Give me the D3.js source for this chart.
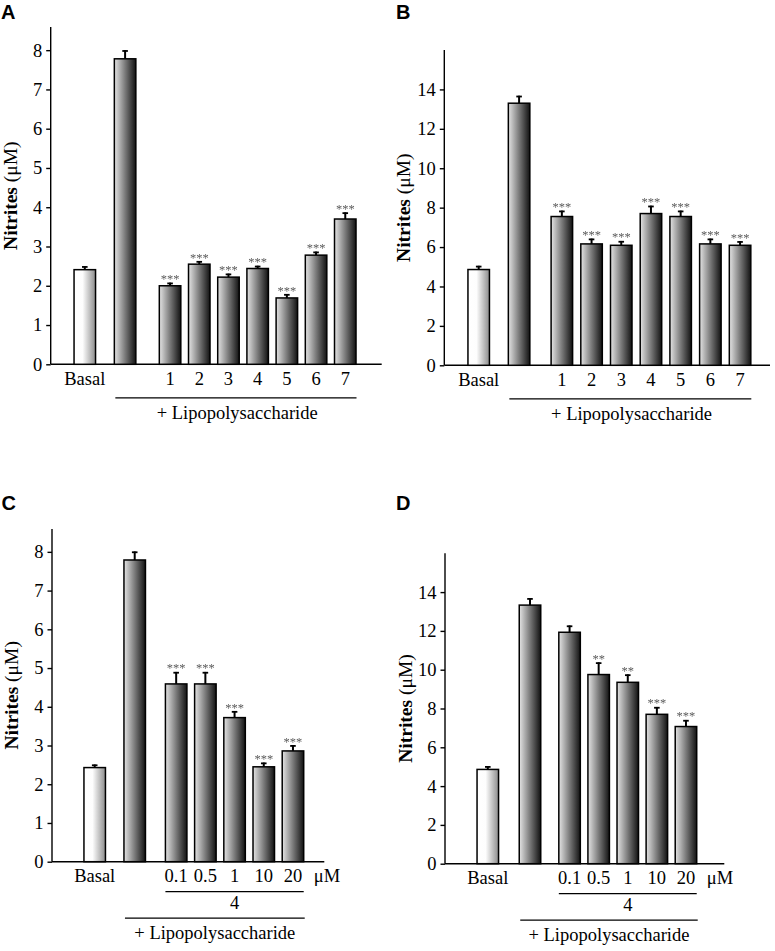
<!DOCTYPE html>
<html><head><meta charset="utf-8">
<script src="https://cdn.jsdelivr.net/npm/d3@7"></script>
<style>
html,body{margin:0;padding:0;background:#fff;}
svg{display:block;}
.sig{filter:grayscale(1);}
</style></head>
<body>
<svg id="chart" width="775" height="951"></svg>
<script>
// ---------- DATA ----------
// Panel A (scale 0-8)
const catsA = ["Basal","LPS","1","2","3","4","5","6","7"];
const labelsA = ["Basal","","1","2","3","4","5","6","7"];
const valuesA = [2.41, 7.78, 2.00, 2.55, 2.22, 2.44, 1.69, 2.78, 3.70];
const semA    = [0.09, 0.22, 0.08, 0.08, 0.09, 0.07, 0.10, 0.09, 0.17];
const sigA    = ["", "", "***","***","***","***","***","***","***"];
const ticksA  = [0,1,2,3,4,5,6,7,8];

// Panel B (scale 0-16)
const catsB = ["Basal","LPS","1","2","3","4","5","6","7"];
const labelsB = ["Basal","","1","2","3","4","5","6","7"];
const valuesB = [4.86, 13.30, 7.55, 6.16, 6.09, 7.70, 7.55, 6.16, 6.09];
const semB    = [0.19, 0.38, 0.30, 0.27, 0.22, 0.40, 0.30, 0.27, 0.21];
const sigB    = ["", "", "***","***","***","***","***","***","***"];
const ticksB  = [0,2,4,6,8,10,12,14];

// Panel C: compound 4 dose-response
const catsC = ["Basal","LPS","0.1","0.5","1","10","20"];
const labelsC = ["Basal","","0.1","0.5","1","10","20"];
const valuesC = [2.43, 7.79, 4.59, 4.59, 3.72, 2.45, 2.86];
const semC    = [0.08, 0.22, 0.31, 0.31, 0.17, 0.11, 0.15];
const sigC    = ["", "", "***","***","***","***","***"];
const ticksC  = [0,1,2,3,4,5,6,7,8];

// Panel D
const catsD = ["Basal","LPS","0.1","0.5","1","10","20"];
const labelsD = ["Basal","","0.1","0.5","1","10","20"];
const valuesD = [4.86, 13.33, 11.93, 9.75, 9.35, 7.70, 7.07];
const semD    = [0.17, 0.36, 0.35, 0.63, 0.41, 0.38, 0.34];
const sigD    = ["", "", "", "**","**","***","***"];
const ticksD  = [0,2,4,6,8,10,12,14];

const yTitleBold = "Nitrites";
const yTitleUnit = " (\u03BCM)";
const groupLabel = "+ Lipopolysaccharide";
const doseCompound = "4";
const doseUnit = "\u03BCM";

// ---------- LAYOUT ----------
const SERIF = '"Liberation Serif", "Times New Roman", serif';
const SANS = '"Liberation Sans", Arial, sans-serif';
const panels = [
  {letter:"A", cats:catsA, labels:labelsA, values:valuesA, sem:semA, sig:sigA, ticks:ticksA, yMax:8.59,
   x0:50.7, x1:381.7, yZero:364.3, yTop:27, basalOff:34.1, slot:29.2, lpsPos:1.38, tPos:2.92,
   letterX:1, letterY:18.5, titleX:10, dose:false},
  {letter:"B", cats:catsB, labels:labelsB, values:valuesB, sem:semB, sig:sigB, ticks:ticksB, yMax:16,
   x0:444.3, x1:770, yZero:365.3, yTop:50, basalOff:34.4, slot:29.7, lpsPos:1.36, tPos:2.80,
   letterX:396, letterY:18.5, titleX:403, dose:false},
  {letter:"C", cats:catsC, labels:labelsC, values:valuesC, sem:semC, sig:sigC, ticks:ticksC, yMax:8.59,
   x0:52, x1:324.3, yZero:861.7, yTop:529, basalOff:42.7, slot:29.2, lpsPos:1.37, tPos:2.79,
   letterX:1.5, letterY:510, titleX:11, dose:true},
  {letter:"D", cats:catsD, labels:labelsD, values:valuesD, sem:semD, sig:sigD, ticks:ticksD, yMax:16,
   x0:445, x1:724.3, yZero:863.7, yTop:553.3, basalOff:42.8, slot:29.1, lpsPos:1.45, tPos:2.81,
   letterX:396, letterY:510, titleX:405, dose:true}
];

const svg = d3.select("#chart");
const defs = svg.append("defs");
const gBasal = defs.append("linearGradient").attr("id","gradBasal").attr("x1","0").attr("x2","1").attr("y1","0").attr("y2","0");
gBasal.append("stop").attr("offset","0").attr("stop-color","#ffffff");
gBasal.append("stop").attr("offset","0.4").attr("stop-color","#fdfdfd");
gBasal.append("stop").attr("offset","1").attr("stop-color","#8c8c8c");
const gDark = defs.append("linearGradient").attr("id","gradDark").attr("x1","0").attr("x2","1").attr("y1","0").attr("y2","0");
gDark.append("stop").attr("offset","0").attr("stop-color","#e4e4e4");
gDark.append("stop").attr("offset","0.5").attr("stop-color","#7a7a7a");
gDark.append("stop").attr("offset","1").attr("stop-color","#121212");

const FS = 18.5;
const barW = 21.5;

function serifText(sel, size) {
  return sel.style("font-family", SERIF).style("font-size", size + "px").style("fill", "#000");
}

panels.forEach(p => {
  const g = svg.append("g");
  const pos = p.cats.map((c,i) => i===0 ? 0 : (i===1 ? p.lpsPos : p.tPos + (i-2)));
  const x = d3.scaleLinear().domain([0,1]).range([p.x0 + p.basalOff, p.x0 + p.basalOff + p.slot]);
  const y = d3.scaleLinear().domain([0, p.yMax]).range([p.yZero, p.yTop]);

  // y axis
  const yAxis = d3.axisLeft(y).tickValues(p.ticks).tickSize(4.5).tickPadding(4).tickFormat(d3.format("d"));
  const ya = g.append("g").attr("transform",`translate(${p.x0},0)`).call(yAxis);
  ya.attr("font-family", null).attr("font-size", null);
  ya.select(".domain").attr("stroke","#000").attr("stroke-width",1.4).attr("d",`M-0,${p.yTop}V${p.yZero}`);
  ya.selectAll(".tick line").attr("stroke","#000").attr("stroke-width",1.4);
  serifText(ya.selectAll(".tick text"), FS);

  // x axis baseline
  g.append("line").attr("x1",p.x0).attr("x2",p.x1).attr("y1",p.yZero).attr("y2",p.yZero)
    .attr("stroke","#000").attr("stroke-width",1.4);

  // bars
  p.values.forEach((v,i) => {
    const cx = x(pos[i]);
    const top = y(v);
    const eTop = y(v + p.sem[i]);
    g.append("line").attr("x1",cx).attr("x2",cx).attr("y1",top).attr("y2",eTop)
      .attr("stroke","#000").attr("stroke-width",2);
    g.append("line").attr("x1",cx-2.8).attr("x2",cx+2.8).attr("y1",eTop+0.8).attr("y2",eTop+0.8)
      .attr("stroke","#000").attr("stroke-width",1.8);
    g.append("rect").attr("x",cx-barW/2).attr("y",top).attr("width",barW).attr("height",p.yZero-top)
      .attr("fill", i===0 ? "url(#gradBasal)" : "url(#gradDark)")
      .attr("stroke","#000").attr("stroke-width",1.5);
    if (p.sig[i]) {
      g.append("text").attr("class","sig").attr("x",cx).attr("y",eTop+0.5).attr("text-anchor","middle")
        .style("font-family", SERIF).style("font-size","12.5px").style("fill","#5a5a5a").text(p.sig[i]);
    }
    if (p.labels[i]) {
      serifText(g.append("text").attr("x",cx).attr("y",p.yZero+20.5).attr("text-anchor","middle"), FS)
        .text(p.labels[i]);
    }
  });

  const lpsLeft = x(pos[1]) - barW/2;
  const firstT = x(pos[2]) - barW/2;
  const lastRight = x(pos[pos.length-1]) + barW/2;

  if (!p.dose) {
    g.append("line").attr("x1",lpsLeft+1).attr("x2",lastRight+0.5).attr("y1",p.yZero+33.5).attr("y2",p.yZero+33.5)
      .attr("stroke","#000").attr("stroke-width",1.2);
    serifText(g.append("text").attr("x",(lpsLeft+lastRight)/2+2).attr("y",p.yZero+55).attr("text-anchor","middle"), FS)
      .text(groupLabel);
  } else {
    serifText(g.append("text").attr("x",x(pos[pos.length-1])+34).attr("y",p.yZero+20.5).attr("text-anchor","middle"), FS)
      .text(doseUnit);
    g.append("line").attr("x1",firstT).attr("x2",lastRight).attr("y1",p.yZero+30).attr("y2",p.yZero+30)
      .attr("stroke","#000").attr("stroke-width",1.2);
    serifText(g.append("text").attr("x",(firstT+lastRight)/2).attr("y",p.yZero+47.5).attr("text-anchor","middle"), FS)
      .text(doseCompound);
    g.append("line").attr("x1",lpsLeft+1).attr("x2",lastRight+1).attr("y1",p.yZero+56.5).attr("y2",p.yZero+56.5)
      .attr("stroke","#000").attr("stroke-width",1.2);
    serifText(g.append("text").attr("x",(lpsLeft+lastRight)/2+1).attr("y",p.yZero+77.5).attr("text-anchor","middle"), FS)
      .text(groupLabel);
  }

  // y title
  const yMid = (p.yTop + p.yZero)/2;
  const t = serifText(g.append("text").attr("transform",`translate(${p.titleX},${yMid}) rotate(-90)`)
    .attr("text-anchor","middle").attr("dy","0.35em"), 19.5);
  t.append("tspan").style("font-weight","bold").text(yTitleBold);
  t.append("tspan").text(yTitleUnit);

  // panel letter
  svg.append("text").attr("x",p.letterX).attr("y",p.letterY)
    .style("font-family", SANS).style("font-weight","bold").style("font-size","20px").style("fill","#000")
    .text(p.letter);
});
</script>
</body></html>
